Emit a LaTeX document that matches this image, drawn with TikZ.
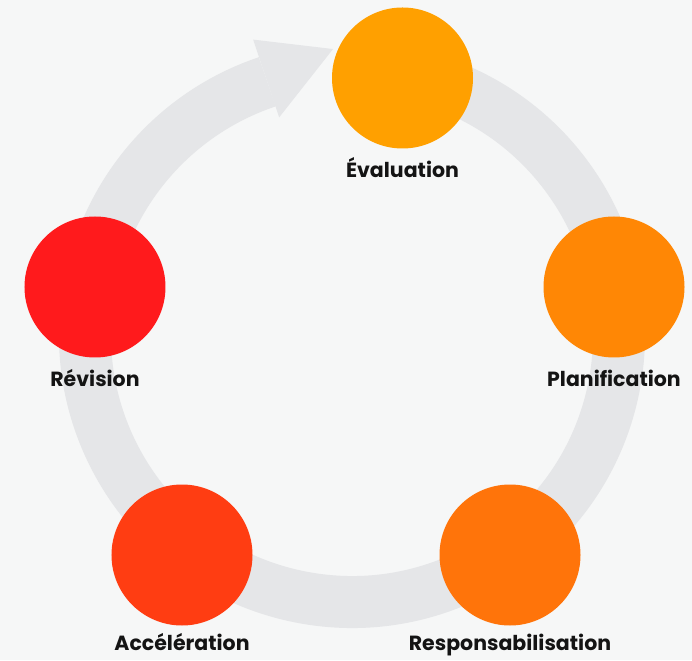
\documentclass[tikz,border=0pt]{standalone}
\usepackage{fontspec}
\setmainfont{Poppins}
\usetikzlibrary{positioning}
\definecolor{bgcol}{HTML}{F6F7F7}
\definecolor{ringcol}{HTML}{E5E6E8}
\definecolor{evalcol}{HTML}{FFA000}
\definecolor{plancol}{HTML}{FF8705}
\definecolor{respcol}{HTML}{FF740A}
\definecolor{accelcol}{HTML}{FF3D12}
\definecolor{revcol}{HTML}{FF1A1C}
\tikzset{x=1pt,y=1pt}
\tikzset{stage/.style={circle,minimum size=141pt,inner sep=0pt}}
\tikzset{stagelabel/.style={font=\bfseries\fontsize{20.5}{24}\selectfont,text=black!92,inner sep=0pt}}

\begin{document}
\begin{tikzpicture}
    \fill[bgcol] (-352,-325) rectangle (340,335);
    \useasboundingbox (-352,-325) rectangle (340,335);
    % cycle ring with its arrow head
    \draw[ringcol,line width=52pt] (79:267) arc[start angle=79,end angle=-251.5,radius=267pt];
    \coordinate (tip) at (93.8:286.6);
    \fill[ringcol] (108.5:311.5) -- (tip) -- (108.5:229.5) -- cycle;
    % stages
    \node[stage,fill=evalcol] (eval) at (50.5,257) {};
    \node[stage,fill=plancol] (plan) at (262,48) {};
    \node[stage,fill=respcol] (resp) at (158,-220) {};
    \node[stage,fill=accelcol] (accel) at (-170,-220) {};
    \node[stage,fill=revcol] (rev) at (-257,48) {};
    \node[stagelabel,below=29pt of eval,anchor=base] (evaltxt) {Évaluation};
    \node[stagelabel,below=29pt of plan,anchor=base] (plantxt) {Planification};
    \node[stagelabel,below=25pt of resp,anchor=base] (resptxt) {Responsabilisation};
    \node[stagelabel,below=25pt of accel,anchor=base] (acceltxt) {Accélération};
    \node[stagelabel,below=29pt of rev,anchor=base] (revtxt) {Révision};
\end{tikzpicture}
\end{document}
